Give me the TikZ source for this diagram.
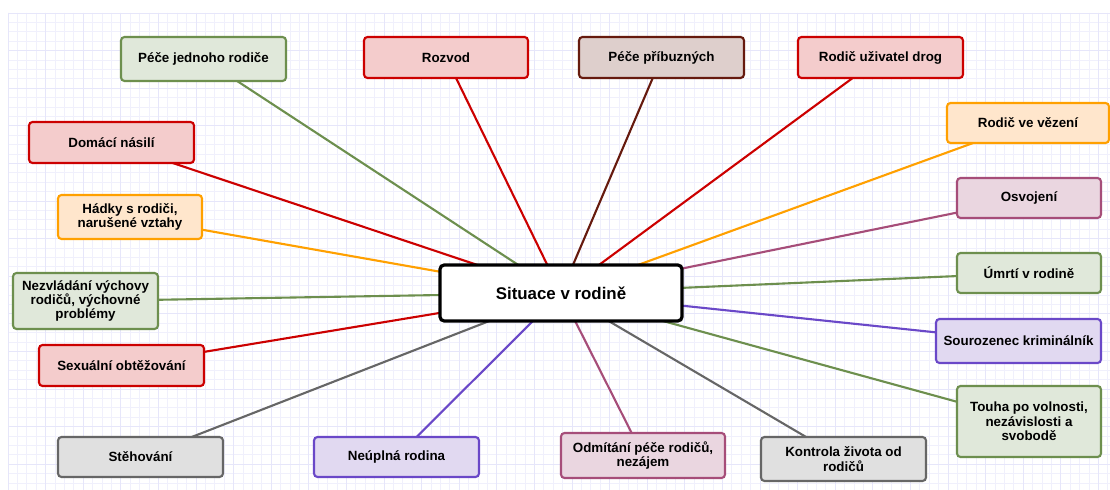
\documentclass[tikz,border=0pt]{standalone}
\usepackage{fontspec}
\setmainfont{Liberation Sans}
\definecolor{grnD}{HTML}{6D8F4E}\definecolor{grnL}{HTML}{E0E8DA}
\definecolor{redD}{HTML}{CC0000}\definecolor{redL}{HTML}{F4CCCC}
\definecolor{orgD}{HTML}{FFA000}\definecolor{orgL}{HTML}{FFE6CC}
\definecolor{brnD}{HTML}{661A0E}\definecolor{brnL}{HTML}{DECFCC}
\definecolor{magD}{HTML}{A64D79}\definecolor{magL}{HTML}{EAD6E0}
\definecolor{vioD}{HTML}{6A48C8}\definecolor{vioL}{HTML}{E1D9F1}
\definecolor{gryD}{HTML}{666666}\definecolor{gryL}{HTML}{E0E0E0}
\definecolor{gridA}{HTML}{F0F0FC}\definecolor{gridB}{HTML}{E6E6FA}
\pgfdeclarelayer{grid}\pgfdeclarelayer{edges}
\pgfsetlayers{grid,edges,main}
\begin{document}
\begin{tikzpicture}[x=0.025cm,y=-0.025cm,
  box/.style={draw=#1D, fill=#1L, rounded corners=2.5pt, line width=1.5pt, outer sep=0pt,
    align=center, font=\fontsize{9.5}{10.2}\selectfont\bfseries, inner sep=2pt},
  sz/.style 2 args={minimum width=#1*0.025cm, minimum height=#2*0.025cm},
  edge/.style={line width=1.5pt}]
\useasboundingbox (0,0) rectangle (1110,490);
\begin{pgfonlayer}{grid}
\fill[white] (0,0) rectangle (1110,490);
\foreach \i in {0,...,117}{\draw[gridA, line width=0.5pt] (8+\i*9.4,13) -- (8+\i*9.4,490);}
\foreach \j in {0,...,50}{\draw[gridA, line width=0.5pt] (8,13+\j*9.4) -- (1110,13+\j*9.4);}
\foreach \i in {0,4,...,116}{\draw[gridB, line width=0.5pt] (8+\i*9.4,13) -- (8+\i*9.4,490);}
\foreach \j in {0,4,...,48}{\draw[gridB, line width=0.5pt] (8,13+\j*9.4) -- (1110,13+\j*9.4);}
\end{pgfonlayer}

\node[draw=black, fill=white, rounded corners=3pt, line width=2.3pt, outer sep=0pt,
  sz={242}{56}, font=\fontsize{12}{14}\selectfont\bfseries] (c) at (561,293) {Situace v rodině};

\node[box=grn, sz={165}{44}] (pjr) at (203.5,59) {Péče jednoho rodiče};
\node[box=red, sz={164}{41}] (roz) at (446,57.5) {Rozvod};
\node[box=brn, sz={165}{41}] (ppr) at (661.5,57.5) {Péče příbuzných};
\node[box=red, sz={165}{41}] (rud) at (880.5,57.5) {Rodič uživatel drog};
\node[box=org, sz={162}{40}] (rvv) at (1028,123) {Rodič ve vězení};
\node[box=mag, sz={144}{40}] (osv) at (1029,198) {Osvojení};
\node[box=grn, sz={144}{40}] (umr) at (1029,273) {Úmrtí v rodině};
\node[box=vio, sz={165}{44}] (sk) at (1018.5,341) {Sourozenec kriminálník};
\node[box=grn, sz={144}{71}] (tou) at (1029,421.5) {Touha po volnosti,\\nezávislosti a\\svobodě};
\node[box=gry, sz={165}{44}] (kon) at (843.5,459) {Kontrola života od\\rodičů};
\node[box=mag, sz={164}{45}] (odm) at (643,455.5) {Odmítání péče rodičů,\\nezájem};
\node[box=vio, sz={165}{40}] (neu) at (396.5,457) {Neúplná rodina};
\node[box=gry, sz={165}{40}] (ste) at (140.5,457) {Stěhování};
\node[box=red, sz={165}{41}] (sex) at (121.5,365.5) {Sexuální obtěžování};
\node[box=grn, sz={145}{56}] (nez) at (85.5,301) {Nezvládání výchovy\\rodičů, výchovné\\problémy};
\node[box=org, sz={144}{44}] (had) at (130,217) {Hádky s rodiči,\\narušené vztahy};
\node[box=red, sz={165}{41}] (dom) at (111.5,142.5) {Domácí násilí};

\begin{pgfonlayer}{edges}
\draw[edge, grnD] (pjr) -- (c);
\draw[edge, redD] (roz) -- (c);
\draw[edge, brnD] (ppr) -- (c);
\draw[edge, redD] (rud) -- (c);
\draw[edge, orgD] (rvv) -- (c);
\draw[edge, magD] (osv) -- (c);
\draw[edge, grnD] (umr) -- (c);
\draw[edge, vioD] (sk) -- (c);
\draw[edge, grnD] (tou) -- (c);
\draw[edge, gryD] (kon) -- (c);
\draw[edge, magD] (odm) -- (c);
\draw[edge, vioD] (neu) -- (c);
\draw[edge, gryD] (ste) -- (c);
\draw[edge, redD] (sex) -- (c);
\draw[edge, grnD] (nez) -- (c);
\draw[edge, orgD] (had) -- (c);
\draw[edge, redD] (dom) -- (c);
\end{pgfonlayer}
\end{tikzpicture}
\end{document}
